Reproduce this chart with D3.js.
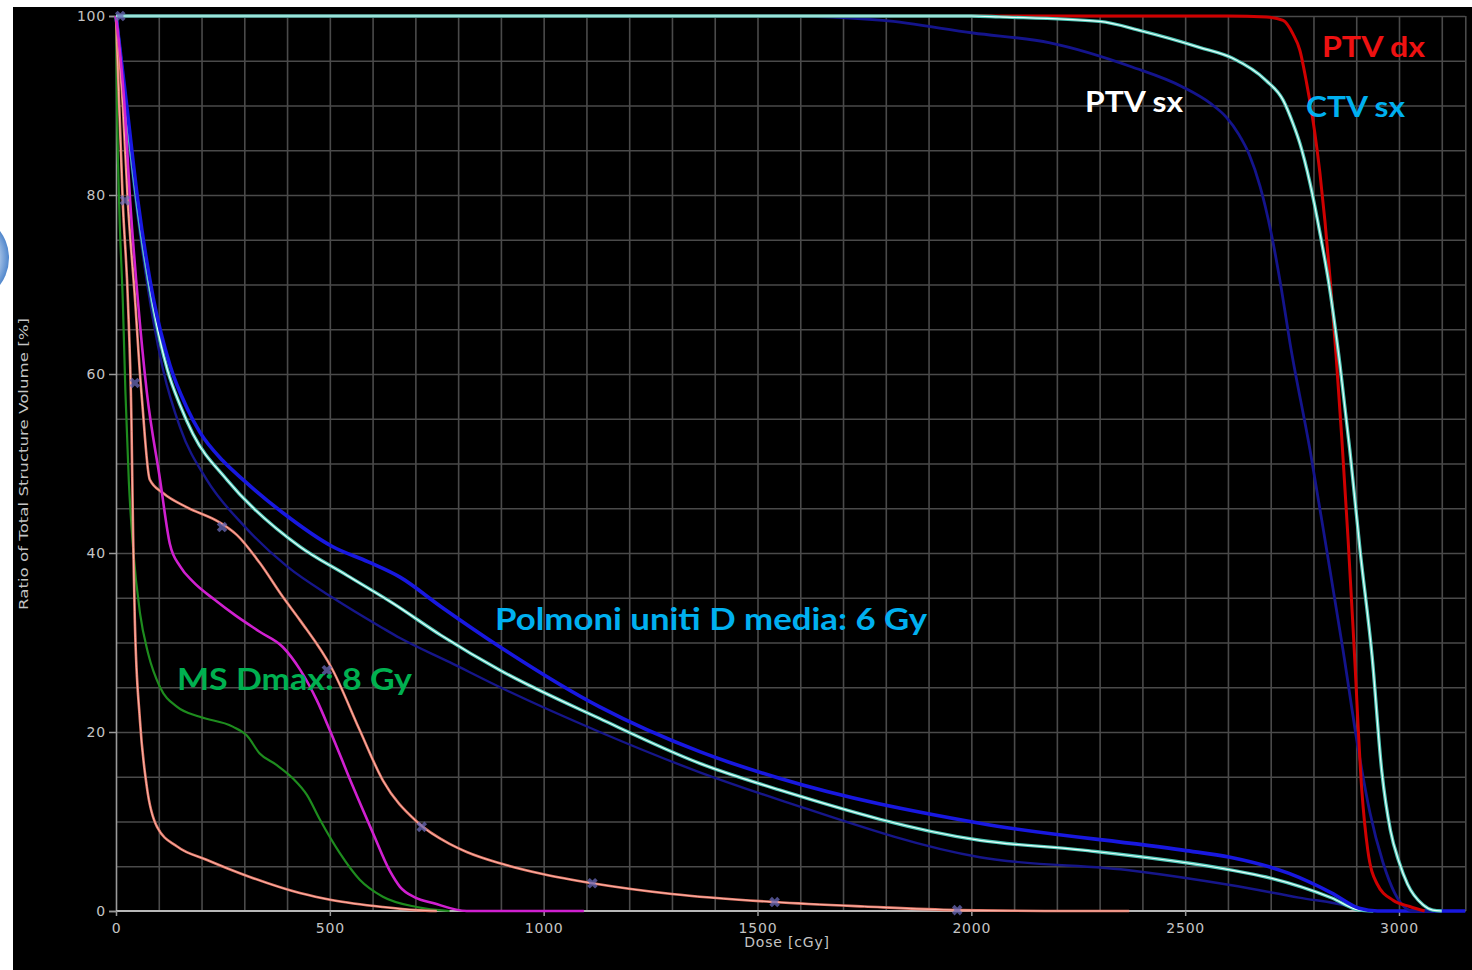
<!DOCTYPE html>
<html>
<head>
<meta charset="utf-8">
<script src="https://cdn.jsdelivr.net/npm/d3@7"></script>
<style>
  html, body { margin: 0; padding: 0; background: #fff; }
  svg { display: block; }
</style>
</head>
<body>
<div id="chart"></div>
<script>
// DVH curves, [dose cGy, volume %]
var ptvDx = [[0,100],[2600,100],[2690,99.9],[2729,99.5],[2752,98],[2768,96.2],[2784,92.5],[2803,87],[2815,82.5],[2827,77],[2840,70],[2853,62],[2866,53],[2881,41.5],[2895,29.5],[2913,13.5],[2927,6.8],[2948,3.1],[2986,1.2],[3025,0.5],[3060,0]];
var ctvSx = [[0,100],[2000,100],[2065,99.9],[2300,99.4],[2400,98.3],[2533,96.5],[2610,95.3],[2689,92.8],[2729,90.6],[2752,88],[2768,85.8],[2792,81.3],[2815,75.8],[2838,69.5],[2862,61],[2885,51.5],[2909,40.3],[2937,28.5],[2960,15.5],[2980,9],[3000,5.5],[3020,3],[3056,0.7],[3079,0.1],[3100,0]];
var ptvSx = [[0,100],[1560,100],[1793,99.5],[2004,98.1],[2184,97],[2376,94.3],[2493,92.1],[2560,90.2],[2596,88.7],[2625,86.8],[2650,84.5],[2675,81],[2700,76],[2725,69.5],[2745,63.5],[2792,51.5],[2831,40.3],[2869,29.2],[2905,18],[2932,11],[2962,5.5],[2990,2],[3033,0],[3100,0]];
var lungBlue = [[0,100],[25,90],[51,79.4],[87,68.5],[126,61],[166,56.2],[196,53.5],[250,50.3],[297,48.2],[390,44.5],[507,40.7],[590,39],[664,37.3],[760,34],[898,29.5],[1131,22.8],[1365,17.8],[1553,14.8],[2020,9.8],[2495,6.8],[2605,6.0],[2743,4.2],[2843,2.0],[2907,0.3],[2950,0],[3155,0]];
var lungCyan = [[0,100],[25,89],[51,78.5],[87,67.5],[120,60.5],[150,56.5],[180,53.3],[259,48.2],[430,40.7],[540,37.5],[647,34.4],[760,30.8],[898,26.9],[1131,21.5],[1365,16.5],[1553,13.5],[2020,7.9],[2261,6.8],[2605,4.6],[2689,3.8],[2843,1.45],[2907,0.1],[2940,0]];
var lungNavy = [[0,100],[25,88],[51,77.5],[87,66],[110,60.5],[150,54],[212,48.2],[300,43],[400,38.5],[507,35],[624,31.6],[664,30.5],[780,27.8],[898,25],[1131,20],[1365,15.5],[1553,12.4],[2020,6.0],[2378,4.5],[2605,2.9],[2766,1.5],[2885,0.5],[2920,0]];
var magenta = [[0,100],[20,90],[33,79.4],[51,68.3],[72,58],[103,48.2],[126,41],[150,38.5],[180,36.8],[230,34.8],[280,33],[336,31.2],[390,29.5],[430,27],[470,23.5],[500,20.2],[554,13.9],[600,8.8],[640,4.5],[664,2.7],[700,1.5],[741,0.9],[820,0],[1094,0]];
var salmonHigh = [[0,100],[16,90],[28,79],[45,68],[56,60],[61,57],[79,48.2],[110,46.7],[166,45.1],[243,43.4],[283,42],[336,38.9],[390,35.1],[430,32.5],[507,26.9],[570,20.2],[624,14.6],[703,10],[780,7.5],[820,6.6],[900,5.3],[1000,4.1],[1114,3.1],[1300,1.9],[1540,1.0],[1750,0.5],[1967,0.1],[2200,0],[2369,0]];
var salmonLow = [[0,100],[16,79],[28,68],[36,55],[40,42],[44,32.5],[56,21.3],[72,13.9],[96,9.4],[143,7.2],[213,5.7],[313,3.8],[430,2.0],[507,1.2],[624,0.45],[703,0.1],[750,0]];
var msGreen = [[0,100],[3,88],[8,78],[16,68],[22,58],[30,48],[40,40.5],[56,33.3],[75,28.8],[103,25],[143,22.8],[196,21.7],[273,20.6],[306,19.6],[336,17.6],[376,16.3],[414,14.8],[446,13],[477,10.2],[523,6.5],[570,3.5],[624,1.6],[703,0.45],[780,0]];
var markerPoints = [[10,100],[21,79.4],[44,59],[248,42.9],[493,26.9],[715,9.4],[1114,3.1],[1540,1.0],[1967,0.1]];

var doseTicks = [0,500,1000,1500,2000,2500,3000];
var volTicks = [0,20,40,60,80,100];

var W = 1472, H = 970;
var svg = d3.select("#chart").append("svg").attr("width", W).attr("height", H);

// black slide area
svg.append("rect").attr("x",13).attr("y",7).attr("width",W-13).attr("height",H-7).attr("fill","#000");

// leftover blue disk on the slide edge
var grad = svg.append("defs").append("radialGradient").attr("id","disk");
grad.append("stop").attr("offset","60%").attr("stop-color","#e8f0fa");
grad.append("stop").attr("offset","100%").attr("stop-color","#4f86cc");
svg.append("circle").attr("cx",-36).attr("cy",258).attr("r",45).attr("fill","url(#disk)");

var x = d3.scaleLinear().domain([0,3000]).range([116,1399]);
var y = d3.scaleLinear().domain([0,100]).range([911,16]);
var xMax = 3155;

// grid
var g = svg.append("g");
g.append("g").attr("transform","translate(0,"+y(0)+")")
  .call(d3.axisBottom(x).tickValues(d3.range(100,3200,100).concat([xMax])).tickSize(-(y(0)-y(100))).tickFormat(""))
  .call(function(s){ s.select(".domain").remove();
    s.selectAll("line").attr("stroke","#4a4a4a").attr("stroke-width",1.6); });
g.append("g").attr("transform","translate("+x(0)+",0)")
  .call(d3.axisLeft(y).tickValues(d3.range(5,101,5)).tickSize(-(x(xMax)-x(0))).tickFormat(""))
  .call(function(s){ s.select(".domain").remove();
    s.selectAll("line").attr("stroke","#4a4a4a").attr("stroke-width",1.6); });

// axes
var yAxis = svg.append("g").attr("transform","translate("+x(0)+",0)")
  .call(d3.axisLeft(y).tickValues(volTicks).tickSize(7).tickPadding(3).tickFormat(d3.format("d")));
var xAxis = svg.append("g").attr("transform","translate(0,"+y(0)+")")
  .call(d3.axisBottom(x).tickValues(doseTicks).tickSize(5).tickPadding(7).tickFormat(d3.format("d")));
[yAxis, xAxis].forEach(function(a){
  a.select(".domain").attr("stroke","#9a9a9a").attr("stroke-width",1.6);
  a.selectAll("line").attr("stroke","#9a9a9a").attr("stroke-width",1.5);
  a.selectAll("text").attr("fill","#c4c4c4").attr("font-family","DejaVu Sans, sans-serif")
    .attr("font-size",14).attr("letter-spacing",0.8);
});
xAxis.select(".domain").attr("d","M"+x(0)+",0H"+x(xMax)).attr("stroke","#b8b8b8").attr("stroke-width",2);

svg.append("text").attr("x",787).attr("y",947).attr("text-anchor","middle")
  .attr("fill","#c4c4c4").attr("font-family","DejaVu Sans, sans-serif").attr("font-size",14)
  .attr("letter-spacing",0.8).text("Dose [cGy]");
svg.append("text").attr("transform","translate(28,464) rotate(-90)").attr("text-anchor","middle")
  .attr("fill","#c4c4c4").attr("font-family","DejaVu Sans, sans-serif").attr("font-size",13)
  .attr("textLength",292).attr("lengthAdjust","spacingAndGlyphs")
  .text("Ratio of Total Structure Volume [%]");

// curves
var line = d3.line().x(function(d){ return x(d[0]); }).y(function(d){ return y(d[1]); })
  .curve(d3.curveMonotoneX);
var plot = svg.append("g");
function draw(data, color, width, core, coreWidth) {
  plot.append("path").datum(data).attr("d", line).attr("fill","none")
    .attr("stroke",color).attr("stroke-width",width).attr("stroke-linejoin","round");
  if (core) plot.append("path").datum(data).attr("d", line).attr("fill","none")
    .attr("stroke",core).attr("stroke-width",coreWidth).attr("stroke-linejoin","round");
}
draw(lungNavy, "#16168a", 2.4);
draw(lungCyan, "#4cc4b4", 3.4, "#e8fffb", 1.2);
draw(lungBlue, "#1818e0", 3.6);
draw(msGreen, "#1e8c1e", 2.2);
draw(salmonLow, "#e07868", 2.6, "#ffb4a8", 1);
draw(salmonHigh, "#e07868", 2.6, "#ffb4a8", 1);
draw(magenta, "#d020d0", 2.6);
draw(ptvSx, "#14148c", 2.8);
draw(ptvDx, "#d00000", 3);
draw(ctvSx, "#4cc4b4", 3.4, "#e8fffb", 1.2);

// point markers
var sym = d3.symbol().type(d3.symbolCross).size(70);
plot.selectAll(".mk").data(markerPoints).join("path").attr("class","mk")
  .attr("d", sym).attr("transform", function(d){ return "translate("+x(d[0])+","+y(d[1])+") rotate(45)"; })
  .attr("fill","#6a6ab8").attr("fill-opacity",0.75);

// annotations
var labels = [
  {t:"PTV dx", x:1322, y:57, w:103, c:"#ee1111", s:29},
  {t:"CTV sx", x:1306, y:117, w:99, c:"#00b0f0", s:29},
  {t:"PTV sx", x:1085, y:112, w:98, c:"#ffffff", s:29},
  {t:"Polmoni uniti D media: 6 Gy", x:495, y:630, w:432, c:"#00b0f0", s:30},
  {t:"MS Dmax: 8 Gy", x:177, y:690, w:235, c:"#00b050", s:30}
];
svg.selectAll(".lab").data(labels).join("text").attr("class","lab")
  .attr("x", function(d){ return d.x; }).attr("y", function(d){ return d.y; })
  .attr("fill", function(d){ return d.c; }).attr("font-size", function(d){ return d.s; })
  .attr("font-family","Lato, 'Open Sans', sans-serif").attr("font-weight",700)
  .attr("textLength", function(d){ return d.w; }).attr("lengthAdjust","spacingAndGlyphs")
  .text(function(d){ return d.t; });
</script>
</body>
</html>
